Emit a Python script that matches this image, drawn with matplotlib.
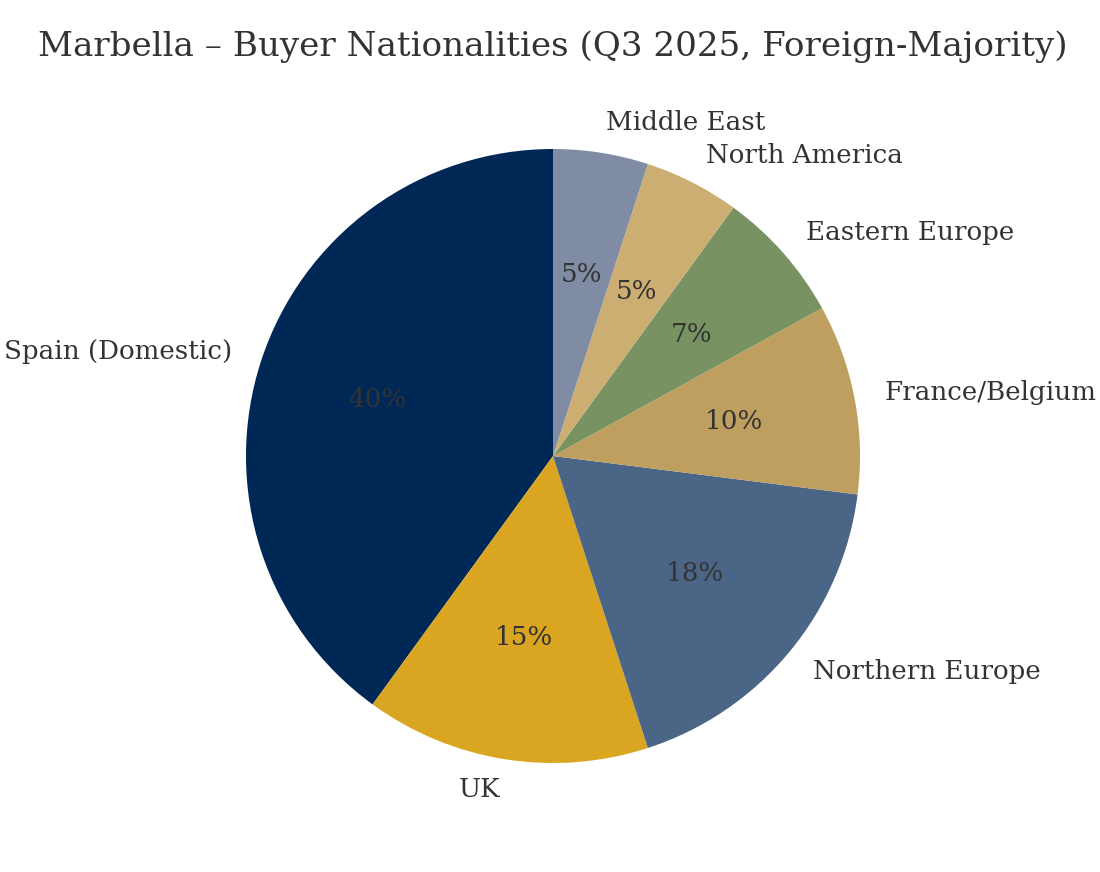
import matplotlib
matplotlib.use("Agg")
import matplotlib.pyplot as plt

categories = ["Spain (Domestic)", "UK", "Northern Europe", "France/Belgium",
              "Eastern Europe", "North America", "Middle East"]
shares = [40, 15, 18, 10, 7, 5, 5]
colors = ["#002856", "#DAA520", "#4A6586", "#BF9F60", "#789262", "#CDAE72", "#7F8CA3"]

plt.rcParams['font.family'] = ['DejaVu Serif']
fig = plt.figure(figsize=(11, 8.72), dpi=100)
cx, cy, r = 553, 456, 307
W, H = 1100, 872
ax = fig.add_axes([(cx - r) / W, (H - cy - r) / H, 2 * r / W, 2 * r / H])
wedges, texts, autotexts = ax.pie(shares, labels=categories, colors=colors,
                                  startangle=90, counterclock=True,
                                  autopct='%1.0f%%', pctdistance=0.6,
                                  labeldistance=1.1,
                                  textprops={'fontsize': 18.8, 'color': '#333333'})
ax.set_xlim(-1, 1)
ax.set_ylim(-1, 1)
ax.set_aspect('equal')
fig.text(553 / W, 1 - 46.5 / H, "Marbella \u2013 Buyer Nationalities (Q3 2025, Foreign-Majority)",
         ha='center', va='center', fontsize=24.6, color='#333333')
fig.savefig("out.png", dpi=100, facecolor='white')
